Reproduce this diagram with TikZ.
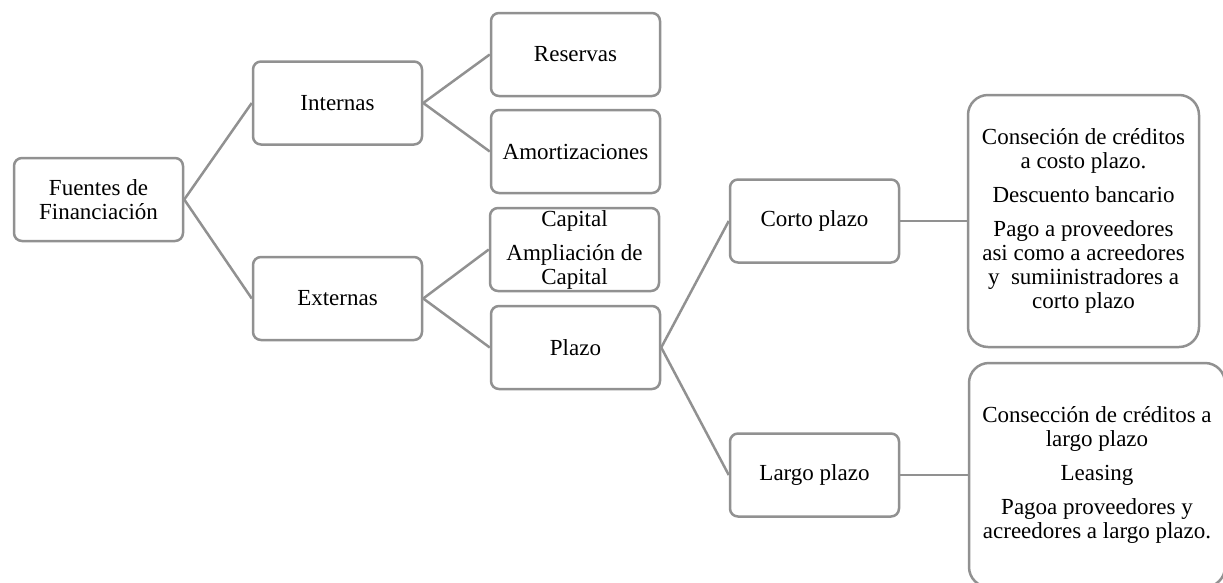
\documentclass[tikz,border=0pt]{standalone}
\usepackage{fontspec}
\setmainfont{Liberation Serif}
\definecolor{linegray}{RGB}{145,145,145}
\tikzset{
  box/.style={draw=linegray, line width=2.5pt, rounded corners=8pt, fill=white,
    minimum width=169pt, minimum height=83pt, inner sep=0pt, align=center,
    font=\fontsize{23}{24}\selectfont},
  listbox/.style={box, rounded corners=20pt},
  link/.style={draw=linegray, line width=2.5pt}
}
\begin{document}
\begin{tikzpicture}[x=1pt,y=-1pt]
\useasboundingbox (0,0) rectangle (1223,582);
\node[box] (fuentes) at (98.5,199.5) {Fuentes de\\Financiación};
\node[box] (internas) at (337.5,103) {Internas};
\node[box] (externas) at (337.5,298.5) {Externas};
\node[box] (reservas) at (575.5,54.5) {Reservas};
\node[box] (amort) at (575.5,151.5) {Amortizaciones};
\node[box] (capital) at (574.5,249.5) {Capital\\[10pt]Ampliación de\\Capital};
\node[box] (plazo) at (575.5,347.5) {Plazo};
\node[box] (corto) at (814.5,221) {Corto plazo};
\node[box] (largo) at (814.5,475) {Largo plazo};
\node[listbox, minimum width=231pt, minimum height=252pt] (cortolist) at (1083.5,221)
  {Conseción de créditos\\a costo plazo.\\[10pt]Descuento bancario\\[10pt]Pago a proveedores\\asi como a acreedores\\y\ \ sumiinistradores a\\corto plazo};
\node[listbox, minimum width=256pt, minimum height=224pt] (largolist) at (1097,475)
  {Consección de créditos a\\largo plazo\\[10pt]Leasing\\[10pt]Pagoa proveedores y\\acreedores a largo plazo.};
% ramas
\draw[link] (fuentes.east) -- (internas.west);
\draw[link] (fuentes.east) -- (externas.west);
\draw[link] (internas.east) -- (reservas.west);
\draw[link] (internas.east) -- (amort.west);
\draw[link] (externas.east) -- (capital.west);
\draw[link] (externas.east) -- (plazo.west);
\draw[link] (plazo.east) -- (corto.west);
\draw[link] (plazo.east) -- (largo.west);
\draw[link] (corto.east) -- (cortolist.west);
\draw[link] (largo.east) -- (largolist.west);
\end{tikzpicture}
\end{document}
